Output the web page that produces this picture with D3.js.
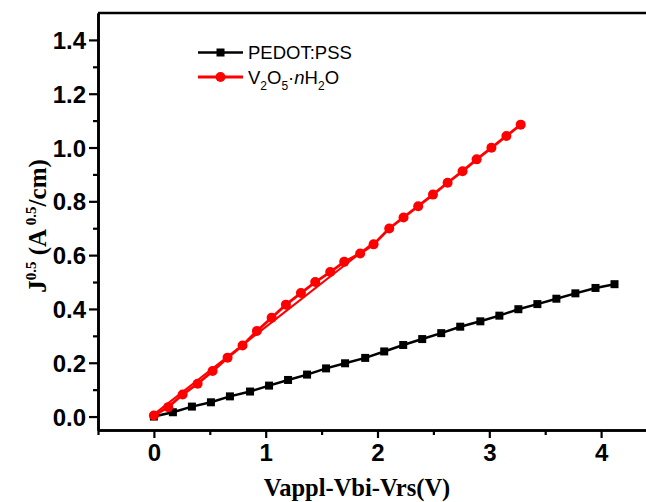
<!DOCTYPE html>
<html>
<head>
<meta charset="utf-8">
<script src="https://cdn.jsdelivr.net/npm/d3@7"></script>
<style>
  body { margin: 0; background: #fff; }
  svg { display: block; }
  .tick text { font-family: "Liberation Sans", Arial, sans-serif; font-weight: bold; font-size: 24px; fill: #000; }
</style>
</head>
<body>
<div id="chart"></div>
<script>
let pedotX = [0, 0.17, 0.34, 0.51, 0.68, 0.86, 1.03, 1.2, 1.37, 1.54, 1.71, 1.89, 2.06,
    2.23, 2.4, 2.57, 2.74, 2.92, 3.09, 3.26, 3.43, 3.6, 3.77, 3.95, 4.12];
let pedotY = [0.0, 0.016, 0.037, 0.053, 0.075, 0.093, 0.115, 0.136, 0.156, 0.179, 0.198, 0.218, 0.242,
    0.266, 0.288, 0.31, 0.334, 0.354, 0.375, 0.399, 0.418, 0.438, 0.458, 0.478, 0.492];
let vX = [0, 0.128, 0.257, 0.391, 0.525, 0.659, 0.793, 0.921, 1.053, 1.181, 1.315, 1.443, 1.577,
    1.702, 1.845, 1.965, 2.105, 2.233, 2.364, 2.496, 2.627, 2.761, 2.887, 3.019, 3.153, 3.281];
let vY = [0.004, 0.035, 0.082, 0.122, 0.169, 0.219, 0.264, 0.318, 0.367, 0.416, 0.459, 0.5, 0.537,
    0.575, 0.606, 0.64, 0.699, 0.74, 0.782, 0.825, 0.869, 0.912, 0.956, 0.999, 1.043, 1.085];
let fitX = [0, 1.96];
let fitY = [0.008, 0.645];
let xTicks = [0, 1, 2, 3, 4];
let xMinor = [-0.5, 0.5, 1.5, 2.5, 3.5];
let yTicks = [0, 0.2, 0.4, 0.6, 0.8, 1.0, 1.2, 1.4];
let yMinor = [0.1, 0.3, 0.5, 0.7, 0.9, 1.1, 1.3];

const W = 646, H = 502;
const svg = d3.select('#chart').append('svg')
    .attr('width', W)
    .attr('height', H);

const x = d3.scaleLinear().domain([-0.5, 4.5]).range([98, 657]);
const y = d3.scaleLinear().domain([-0.05, 1.5]).range([430, 13]);

// minor ticks first, then majors with labels
svg.append('g')
    .attr('transform', 'translate(0,430)')
    .call(d3.axisBottom(x).tickValues(xMinor).tickSize(5).tickFormat('').tickSizeOuter(0));
svg.append('g')
    .attr('class', 'xaxis')
    .attr('transform', 'translate(0,430)')
    .call(d3.axisBottom(x).tickValues(xTicks).tickSize(8).tickSizeOuter(0).tickFormat(d3.format('d')));
svg.append('g')
    .attr('transform', 'translate(98,0)')
    .call(d3.axisLeft(y).tickValues(yMinor).tickSize(5).tickFormat('').tickSizeOuter(0));
svg.append('g')
    .attr('class', 'yaxis')
    .attr('transform', 'translate(98,0)')
    .call(d3.axisLeft(y).tickValues(yTicks).tickSize(9).tickSizeOuter(0).tickFormat(d3.format('.1f')));

svg.selectAll('.domain').attr('stroke', '#000').attr('stroke-width', 2.6);
svg.selectAll('.tick line').attr('stroke', '#000').attr('stroke-width', 2.2);
svg.selectAll('.xaxis .tick text').attr('y', 14).attr('dy', '0.71em');
svg.selectAll('.yaxis .tick text').attr('x', -12).attr('dy', '0.36em');

// top frame line
svg.append('line')
    .attr('x1', x(-0.5)).attr('x2', W)
    .attr('y1', y(1.5)).attr('y2', y(1.5))
    .attr('stroke', '#000').attr('stroke-width', 2.6);

const line = d3.line().x(d => x(d[0])).y(d => y(d[1]));
const pedot = pedotX.map((v, i) => [v, pedotY[i]]);
const vox = vX.map((v, i) => [v, vY[i]]);
const fit = fitX.map((v, i) => [v, fitY[i]]);

svg.append('path').datum(pedot)
    .attr('d', line).attr('fill', 'none').attr('stroke', '#000').attr('stroke-width', 2.5);
svg.selectAll('.sq').data(pedot).enter().append('rect')
    .attr('x', d => x(d[0]) - 4).attr('y', d => y(d[1]) - 4)
    .attr('width', 8).attr('height', 8).attr('fill', '#000');

svg.append('path').datum(fit)
    .attr('d', line).attr('fill', 'none').attr('stroke', '#ff0000').attr('stroke-width', 2);
svg.append('path').datum(vox)
    .attr('d', line).attr('fill', 'none').attr('stroke', '#ff0000').attr('stroke-width', 2.8);
svg.selectAll('.dot').data(vox).enter().append('circle')
    .attr('cx', d => x(d[0])).attr('cy', d => y(d[1]))
    .attr('r', 5).attr('fill', '#ff0000');

// legend
const leg = svg.append('g').attr('font-family', '"Liberation Sans", Arial, sans-serif').attr('font-size', 18.5);
leg.append('line').attr('x1', 198).attr('x2', 243).attr('y1', 52.5).attr('y2', 52.5)
    .attr('stroke', '#000').attr('stroke-width', 2.5);
leg.append('rect').attr('x', 216.5).attr('y', 48.5).attr('width', 8).attr('height', 8).attr('fill', '#000');
leg.append('text').attr('x', 248).attr('y', 59).text('PEDOT:PSS');
leg.append('line').attr('x1', 198).attr('x2', 243).attr('y1', 77).attr('y2', 77)
    .attr('stroke', '#ff0000').attr('stroke-width', 2.8);
leg.append('circle').attr('cx', 220.5).attr('cy', 77).attr('r', 5).attr('fill', '#ff0000');
const t2 = leg.append('text').attr('x', 248).attr('y', 83.5);
t2.append('tspan').text('V');
t2.append('tspan').attr('font-size', 12).attr('dy', 6).text('2');
t2.append('tspan').attr('dy', -6).text('O');
t2.append('tspan').attr('font-size', 12).attr('dy', 6).text('5');
t2.append('tspan').attr('dy', -6).text('\u00b7');
t2.append('tspan').attr('font-style', 'italic').text('n');
t2.append('tspan').text('H');
t2.append('tspan').attr('font-size', 12).attr('dy', 6).text('2');
t2.append('tspan').attr('dy', -6).text('O');

// axis titles
svg.append('text')
    .attr('x', 357).attr('y', 496)
    .attr('text-anchor', 'middle')
    .attr('font-family', '"Liberation Serif", "Times New Roman", serif')
    .attr('font-weight', 'bold').attr('font-size', 24.5)
    .text('Vappl-Vbi-Vrs(V)');

const yt = svg.append('text')
    .attr('transform', 'translate(46,226) rotate(-90)')
    .attr('text-anchor', 'middle')
    .attr('font-family', '"Liberation Serif", "Times New Roman", serif')
    .attr('font-weight', 'bold').attr('font-size', 25);
yt.append('tspan').text('J');
yt.append('tspan').attr('font-size', 15).attr('dy', -10).text('0.5');
yt.append('tspan').attr('dy', 10).text(' (A');
yt.append('tspan').attr('font-size', 15).attr('dy', -10).text(' 0.5');
yt.append('tspan').attr('dy', 10).text('/cm)');
</script>
</body>
</html>
